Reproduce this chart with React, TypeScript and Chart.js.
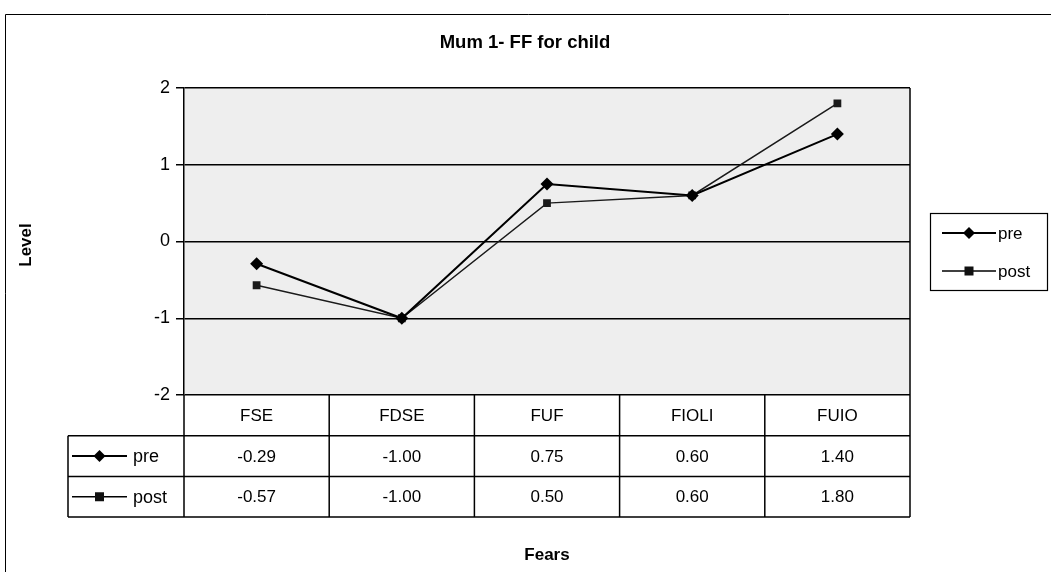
import React, { useEffect, useRef } from "react";
import { Chart, registerables } from "chart.js";

Chart.register(...registerables);

const categories = ["FSE", "FDSE", "FUF", "FIOLI", "FUIO"];
const preValues = [-0.29, -1.0, 0.75, 0.6, 1.4];
const postValues = [-0.57, -1.0, 0.5, 0.6, 1.8];
const seriesNames = ["pre", "post"];
const yTicks = [-2, -1, 0, 1, 2];
const chartTitle = "Mum 1- FF for child";
const yTitle = "Level";
const xTitle = "Fears";

const FONT = "'Liberation Sans', Arial, sans-serif";

function drawMarker(ctx: CanvasRenderingContext2D, kind: string, x: number, y: number) {
  ctx.save();
  ctx.fillStyle = "#000";
  ctx.beginPath();
  if (kind === "pre") {
    const r = 6;
    ctx.moveTo(x, y - r);
    ctx.lineTo(x + r, y);
    ctx.lineTo(x, y + r);
    ctx.lineTo(x - r, y);
    ctx.closePath();
    ctx.fill();
  } else {
    const s = 9;
    ctx.fillStyle = "#111";
    ctx.fillRect(x - s / 2, y - s / 2, s, s);
  }
  ctx.restore();
}

function legendSample(ctx: CanvasRenderingContext2D, kind: string, x1: number, x2: number, y: number) {
  ctx.save();
  ctx.strokeStyle = "#000";
  ctx.lineWidth = kind === "pre" ? 2 : 1.5;
  ctx.beginPath();
  ctx.moveTo(x1, y);
  ctx.lineTo(x2, y);
  ctx.stroke();
  ctx.restore();
  drawMarker(ctx, kind, (x1 + x2) / 2, y);
}

const decorPlugin = {
  id: "decor",
  beforeDraw(chart: any) {
    const { ctx, chartArea } = chart;
    ctx.save();
    ctx.fillStyle = "#fff";
    ctx.fillRect(0, 0, chart.width, chart.height);
    ctx.fillStyle = "#eeeeee";
    ctx.fillRect(chartArea.left, chartArea.top, chartArea.right - chartArea.left, chartArea.bottom - chartArea.top);
    ctx.strokeStyle = "#000";
    ctx.lineWidth = 1;
    ctx.beginPath();
    ctx.moveTo(5.5, chart.height);
    ctx.lineTo(5.5, 14.5);
    ctx.lineTo(chart.width, 14.5);
    ctx.stroke();
    ctx.restore();
  },
  afterDraw(chart: any) {
    const { ctx, chartArea } = chart;
    const xs = chart.scales.x;
    const left = chartArea.left;
    const right = chartArea.right;
    const bottom = chartArea.bottom;
    ctx.save();
    ctx.strokeStyle = "#000";
    ctx.lineWidth = 1.5;
    ctx.beginPath();
    ctx.moveTo(right, chartArea.top);
    ctx.lineTo(right, bottom);
    ctx.stroke();

    // Title
    ctx.fillStyle = "#000";
    ctx.textAlign = "center";
    ctx.textBaseline = "middle";
    ctx.font = `bold 18.5px ${FONT}`;
    ctx.fillText(chartTitle, 525, 43);

    // Y title
    ctx.save();
    ctx.translate(26, 245);
    ctx.rotate(-Math.PI / 2);
    ctx.font = `bold 17px ${FONT}`;
    ctx.fillText(yTitle, 0, 0);
    ctx.restore();

    // X title
    ctx.font = `bold 17px ${FONT}`;
    ctx.fillText(xTitle, (left + right) / 2, 555);

    // Data table
    const rowH = 40.7;
    const r0 = bottom;
    const r1 = r0 + rowH;
    const r2 = r1 + rowH;
    const r3 = r2 + rowH;
    const legLeft = 68;
    const colW = xs.getPixelForValue(1) - xs.getPixelForValue(0);

    ctx.strokeStyle = "#000";
    ctx.lineWidth = 1.5;
    ctx.beginPath();
    ctx.moveTo(legLeft, r1);
    ctx.lineTo(right, r1);
    ctx.moveTo(legLeft, r2);
    ctx.lineTo(right, r2);
    ctx.moveTo(legLeft, r3);
    ctx.lineTo(right, r3);
    ctx.moveTo(legLeft, r1);
    ctx.lineTo(legLeft, r3);
    ctx.moveTo(left, r0);
    ctx.lineTo(left, r3);
    categories.forEach((_, i) => {
      const xr = xs.getPixelForValue(i) + colW / 2;
      ctx.moveTo(xr, r0);
      ctx.lineTo(xr, r3);
    });
    ctx.stroke();

    ctx.font = `17px ${FONT}`;
    ctx.textAlign = "center";
    ctx.textBaseline = "middle";
    ctx.fillStyle = "#000";
    categories.forEach((c, i) => {
      const cx = xs.getPixelForValue(i);
      ctx.fillText(c, cx, (r0 + r1) / 2 + 1);
      ctx.fillText(preValues[i].toFixed(2), cx, (r1 + r2) / 2 + 1);
      ctx.fillText(postValues[i].toFixed(2), cx, (r2 + r3) / 2 + 1);
    });

    [0, 1].forEach((k) => {
      const cy = k === 0 ? (r1 + r2) / 2 : (r2 + r3) / 2;
      legendSample(ctx, seriesNames[k], 72, 127, cy);
      ctx.textAlign = "left";
      ctx.textBaseline = "middle";
      ctx.font = `18px ${FONT}`;
      ctx.fillStyle = "#000";
      ctx.fillText(seriesNames[k], 133, cy + 1);
    });

    // right legend box
    ctx.strokeStyle = "#000";
    ctx.lineWidth = 1.2;
    ctx.strokeRect(930.5, 213.5, 117, 77);
    [233, 271].forEach((cy, k) => {
      legendSample(ctx, seriesNames[k], 942, 996, cy);
      ctx.textAlign = "left";
      ctx.textBaseline = "middle";
      ctx.font = `17px ${FONT}`;
      ctx.fillStyle = "#000";
      ctx.fillText(seriesNames[k], 998, cy + 1);
    });
    ctx.restore();
  },
};

export default function App() {
  const canvasRef = useRef<HTMLCanvasElement | null>(null);

  useEffect(() => {
    if (!canvasRef.current) return;
    const chart = new Chart(canvasRef.current, {
      type: "line",
      data: {
        labels: categories,
        datasets: [
          {
            label: seriesNames[0],
            data: preValues,
            borderColor: "#000",
            backgroundColor: "#000",
            borderWidth: 2,
            pointStyle: "rectRot",
            pointRadius: 6.5,
            pointBorderWidth: 0,
            tension: 0,
          },
          {
            label: seriesNames[1],
            data: postValues,
            borderColor: "#1a1a1a",
            backgroundColor: "#1a1a1a",
            borderWidth: 1.5,
            pointStyle: "rect",
            pointRadius: 5.5,
            pointBorderWidth: 0,
            tension: 0,
          },
        ],
      },
      options: {
        responsive: false,
        animation: false,
        devicePixelRatio: 1,
        layout: { padding: { left: 144, right: 141, top: 88, bottom: 177 } },
        plugins: {
          legend: { display: false },
          title: { display: false },
          tooltip: { enabled: false },
        },
        scales: {
          x: {
            type: "category",
            display: false,
            offset: true,
          },
          y: {
            min: yTicks[0],
            max: yTicks[yTicks.length - 1],
            afterFit: (scale: any) => {
              scale.width = 40;
            },
            afterBuildTicks: (scale: any) => {
              scale.ticks = yTicks.map((v) => ({ value: v }));
            },
            ticks: {
              color: "#000",
              font: { family: FONT, size: 18 },
              padding: 6,
            },
            grid: {
              color: "#000",
              lineWidth: 1.5,
              tickLength: 8,
            },
            border: { display: true, color: "#000", width: 1.5 },
          },
        },
      },
      plugins: [decorPlugin],
    });
    return () => chart.destroy();
  }, []);

  return (
    <div style={{ position: "fixed", left: 0, top: 0, width: 1051, height: 572, background: "#fff" }}>
      <canvas ref={canvasRef} width={1051} height={572} style={{ width: 1051, height: 572, display: "block" }} />
    </div>
  );
}
